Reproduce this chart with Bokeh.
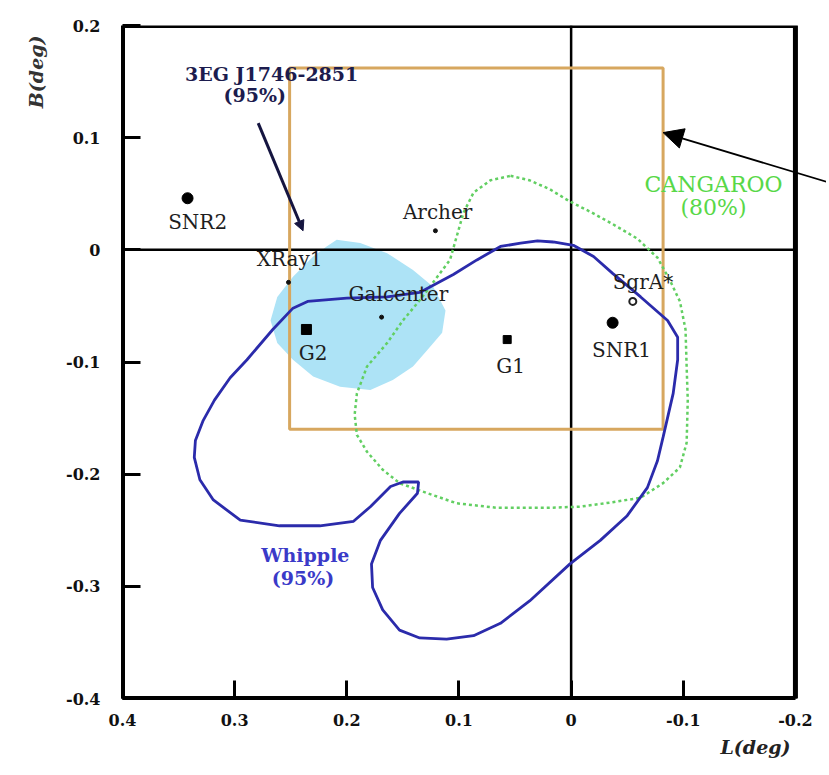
from bokeh.plotting import figure
from bokeh.models import Range1d, FixedTicker, Arrow, NormalHead, Title
from bokeh.core.properties import value
from bokeh.embed import file_html
from bokeh.resources import INLINE

# ---------------- data ----------------
x_ticks = [0.4, 0.3, 0.2, 0.1, 0.0, -0.1, -0.2]
x_tick_labels = ["0.4", "0.3", "0.2", "0.1", "0", "-0.1", "-0.2"]
y_ticks = [0.2, 0.1, 0.0, -0.1, -0.2, -0.3, -0.4]
y_tick_labels = ["0.2", "0.1", "0", "-0.1", "-0.2", "-0.3", "-0.4"]
l_min, l_max = -0.2, 0.4
b_min, b_max = -0.4, 0.2

# Whipple 95% contour (l, b)
whipple_l = [0.016, -0.002, -0.020, -0.037, -0.062, -0.086, -0.095, -0.095, -0.091, -0.082,
             -0.077, -0.068, -0.050, -0.026, 0.001, 0.037, 0.063, 0.087, 0.111, 0.135,
             0.153, 0.168, 0.177, 0.178, 0.170, 0.153, 0.137, 0.136, 0.150, 0.161,
             0.179, 0.194, 0.224, 0.260, 0.295, 0.319, 0.331, 0.336, 0.335, 0.328,
             0.318, 0.304, 0.289, 0.266, 0.248, 0.235, 0.200, 0.164, 0.135, 0.105,
             0.084, 0.063, 0.045, 0.030, 0.016]
whipple_b = [0.007, 0.004, -0.006, -0.021, -0.042, -0.063, -0.078, -0.098, -0.128, -0.167,
             -0.188, -0.212, -0.237, -0.259, -0.280, -0.313, -0.333, -0.344, -0.347, -0.346,
             -0.339, -0.321, -0.301, -0.280, -0.259, -0.235, -0.217, -0.207, -0.207, -0.211,
             -0.229, -0.242, -0.246, -0.246, -0.241, -0.223, -0.205, -0.185, -0.170, -0.152,
             -0.134, -0.114, -0.098, -0.071, -0.052, -0.046, -0.043, -0.042, -0.038, -0.022,
             -0.009, 0.003, 0.006, 0.008, 0.007]

# CANGAROO 80% contour
cangaroo_l = [0.054, 0.037, 0.019, 0.001, -0.017, -0.037, -0.059, -0.077, -0.088, -0.097,
              -0.102, -0.103, -0.104, -0.103, -0.097, -0.082, -0.062, -0.037, -0.008, 0.021,
              0.066, 0.102, 0.128, 0.153, 0.168, 0.182, 0.191, 0.193, 0.191, 0.182,
              0.164, 0.150, 0.135, 0.123, 0.108, 0.102, 0.096, 0.087, 0.072, 0.054]
cangaroo_b = [0.066, 0.062, 0.054, 0.043, 0.034, 0.023, 0.010, -0.007, -0.027, -0.046,
              -0.071, -0.104, -0.134, -0.172, -0.194, -0.208, -0.221, -0.225, -0.229, -0.230,
              -0.230, -0.226, -0.217, -0.208, -0.196, -0.180, -0.165, -0.147, -0.128, -0.104,
              -0.083, -0.063, -0.045, -0.029, -0.009, 0.012, 0.033, 0.051, 0.062, 0.066]

# diffuse emission region (filled)
blob_l = [0.209, 0.188, 0.164, 0.141, 0.123, 0.112, 0.115, 0.128, 0.141, 0.159,
          0.179, 0.206, 0.230, 0.248, 0.262, 0.268, 0.262, 0.248, 0.230, 0.218]
blob_b = [0.009, 0.006, -0.003, -0.018, -0.033, -0.054, -0.074, -0.089, -0.104, -0.116,
          -0.125, -0.122, -0.113, -0.098, -0.083, -0.063, -0.042, -0.024, -0.006, 0.003]

# 3EG J1746-2851 error box
box_left, box_right, box_bottom, box_top = 0.251, -0.082, -0.160, 0.162

# sources
big_dot_l = [0.342, -0.037]          # SNR2, SNR1
big_dot_b = [0.046, -0.065]
square_l = [0.236, 0.057]            # G2, G1
square_b = [-0.071, -0.080]
square_size = [10, 8]
small_dot_l = [0.121, 0.252, 0.169]  # Archer, XRay1, Galcenter
small_dot_b = [0.017, -0.029, -0.060]
sgra_l = [-0.055]
sgra_b = [-0.046]

label_text = ["SNR2", "Archer", "XRay1", "Galcenter", "G2", "G1", "SNR1", "SgrA*"]
label_l = [0.333, 0.119, 0.251, 0.154, 0.230, 0.054, -0.045, -0.064]
label_b = [0.025, 0.034, -0.008, -0.039, -0.092, -0.104, -0.089, -0.029]

egret_text = ["3EG J1746-2851", "(95%)"]
egret_l = [0.267, 0.282]
egret_b = [0.157, 0.138]
egret_arrow = (0.279, 0.113, 0.239, 0.017)

cang_text = ["CANGAROO", "(80%)"]
cang_l = [-0.127, -0.127]
cang_b = [0.058, 0.0375]
cang_arrow = (-0.230, 0.060, -0.082, 0.1045)

whip_text = ["Whipple", "(95%)"]
whip_l = [0.237, 0.239]
whip_b = [-0.272, -0.293]

# ---------------- figure ----------------
SERIF = "DejaVu Serif"
# the x range runs a little past -0.2 so that the CANGAROO pointer can start outside the box
p = figure(width=826, height=772, output_backend="svg", toolbar_location=None,
           x_range=Range1d(l_max, -0.2277), y_range=Range1d(b_min, b_max),
           min_border_left=122, min_border_right=0, min_border_top=25, min_border_bottom=74)
p.background_fill_color = "white"
p.border_fill_color = "white"
p.grid.visible = False
p.outline_line_color = None

for ax, ticks, labels in ((p.xaxis[0], x_ticks, x_tick_labels), (p.yaxis[0], y_ticks, y_tick_labels)):
    ax.ticker = FixedTicker(ticks=ticks)
    ax.major_label_overrides = {t: s for t, s in zip(ticks, labels)}
    ax.major_tick_in = 18
    ax.major_tick_out = 0
    ax.minor_tick_line_color = None
    ax.major_tick_line_width = 3
    ax.major_tick_line_color = "black"
    ax.axis_line_width = 3
    ax.axis_line_color = "black"
    ax.major_label_text_font = SERIF
    ax.major_label_text_font_style = "bold"
    ax.major_label_text_font_size = "16px"
    ax.major_label_text_color = "#111111"
p.xaxis.bounds = (l_min, l_max)
p.yaxis.bounds = (b_min, b_max)
p.xaxis.major_label_standoff = 15
p.yaxis.major_label_standoff = 22

p.add_layout(Title(text="L(deg)", align="right", text_font=SERIF, text_font_style="bold italic",
                   text_font_size="19px", text_color="#222222", offset=36), "below")
p.add_layout(Title(text="B(deg)", align="right", vertical_align="top", text_font=SERIF,
                   text_font_style="bold italic", text_font_size="19px", text_color="#333333",
                   offset=10, standoff=30), "left")

# plot box (top and right sides)
p.quad(left=[l_max], right=[l_min], bottom=[b_min], top=[b_max],
       fill_color=None, line_color="black", line_width=5)

# diffuse region
p.patch(blob_l, blob_b, fill_color="#ade3f6", line_color=None)

# axes through origin
p.line([l_max, l_min], [0, 0], line_color="black", line_width=2.5)
p.line([0, 0], [b_min, b_max], line_color="black", line_width=2.5)

# EGRET box
p.quad(left=[box_left], right=[box_right], bottom=[box_bottom], top=[box_top],
       fill_color=None, line_color="#d7a75f", line_width=3)

# contours
p.line(cangaroo_l, cangaroo_b, line_color="#62cf62", line_width=2.5, line_dash="3 3")
p.line(whipple_l, whipple_b, line_color="#2b2bab", line_width=2.8)

# sources
p.scatter(big_dot_l, big_dot_b, marker="circle", size=11, color="black")
p.scatter(square_l, square_b, marker="square", size=square_size, color="black")
p.scatter(small_dot_l, small_dot_b, marker="circle", size=4, color="#111111")
p.scatter(sgra_l, sgra_b, marker="circle", size=7, fill_color=None, line_color="#222222", line_width=2)

p.text(label_l, label_b, text=label_text, text_font=value(SERIF), text_font_size="20px",
       text_align="center", text_baseline="middle", text_color="#1e1e1e")
p.text(egret_l, egret_b, text=egret_text, text_font=value(SERIF), text_font_size="19px",
       text_font_style="bold", text_align="center", text_baseline="middle", text_color="#1c1c4e")
p.text(cang_l, cang_b, text=cang_text, text_font=value(SERIF), text_font_size="22px",
       text_align="center", text_baseline="middle", text_color="#58d848")
p.text(whip_l, whip_b, text=whip_text, text_font=value(SERIF), text_font_size="19px",
       text_font_style="bold", text_align="center", text_baseline="middle", text_color="#3a3ac8")

p.add_layout(Arrow(x_start=egret_arrow[0], y_start=egret_arrow[1], x_end=egret_arrow[2], y_end=egret_arrow[3],
                   line_color="#151540", line_width=3,
                   end=NormalHead(size=10, fill_color="#151540", line_color="#151540")))
p.add_layout(Arrow(x_start=cang_arrow[0], y_start=cang_arrow[1], x_end=cang_arrow[2], y_end=cang_arrow[3],
                   line_color="black", line_width=1.8,
                   end=NormalHead(size=20, fill_color="black", line_color="black")))

open("out.html", "w").write(file_html(p, INLINE))
